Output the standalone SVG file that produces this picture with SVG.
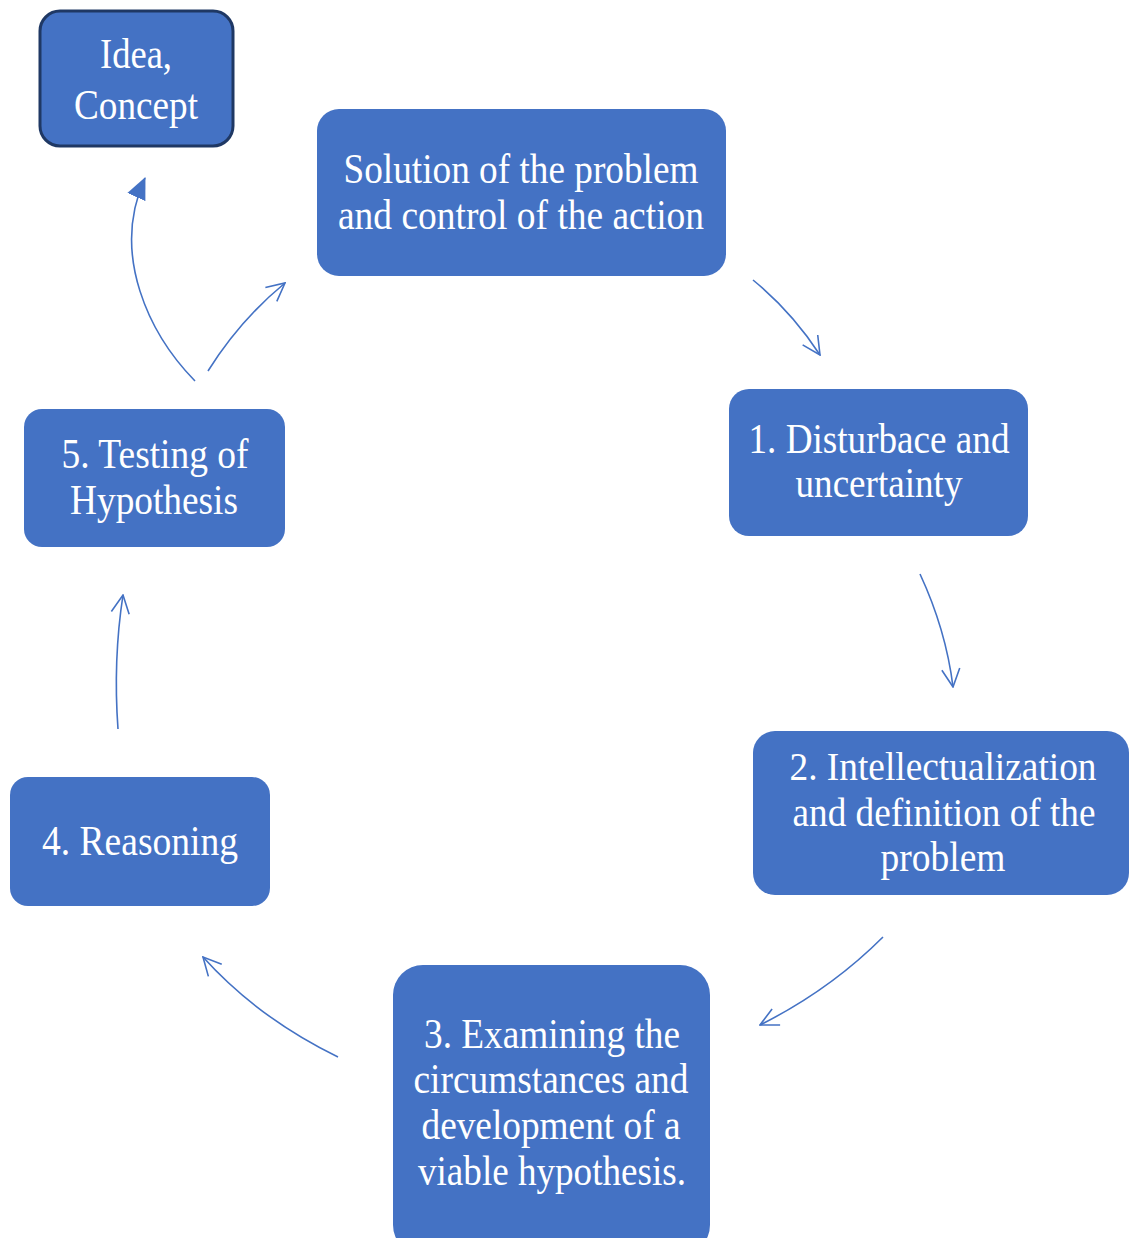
<svg xmlns="http://www.w3.org/2000/svg" width="1130" height="1238" viewBox="0 0 1130 1238">
<style>
.box{fill:#4472c4;}
.idea{fill:#4472c4;stroke:#1f3864;stroke-width:3;}
.t{font-family:"Liberation Serif","Times New Roman",serif;font-size:42px;fill:#ffffff;text-anchor:middle;}
.s{font-size:40px;}
.c{fill:none;stroke:#4472c4;stroke-width:1.6;}
</style>
<defs>
<marker id="open" viewBox="0 0 20 20" refX="19" refY="10" markerWidth="20" markerHeight="20" markerUnits="userSpaceOnUse" orient="auto">
<path d="M1,1 L19,10 L1,19" fill="none" stroke="#4472c4" stroke-width="1.6"/>
</marker>
<marker id="solid" viewBox="0 0 20 20" refX="19" refY="10" markerWidth="22" markerHeight="22" markerUnits="userSpaceOnUse" orient="auto">
<path d="M0,1 L20,10 L0,19 Z" fill="#4472c4"/>
</marker>
</defs>
<rect width="1130" height="1238" fill="#ffffff"/>
<g id="connectors">
<path class="c" d="M753,280 Q792,312 820,355" marker-end="url(#open)"/>
<path class="c" d="M920,574 Q946,630 953,687" marker-end="url(#open)"/>
<path class="c" d="M883,937 Q830,990 760,1025" marker-end="url(#open)"/>
<path class="c" d="M338,1057 Q258,1018 203,957" marker-end="url(#open)"/>
<path class="c" d="M118,729 Q113,660 123,595" marker-end="url(#open)"/>
<path class="c" d="M208,371 Q240,320 285,283" marker-end="url(#open)"/>
<path class="c" d="M195,381 C150,335 110,255 145,178" marker-end="url(#solid)"/>
</g>
<g id="idea">
<rect class="idea" x="40" y="11" width="193" height="135" rx="20"/>
<text class="t" x="136" y="68" textLength="72" lengthAdjust="spacingAndGlyphs">Idea,</text>
<text class="t" x="136" y="119" textLength="124" lengthAdjust="spacingAndGlyphs">Concept</text>
</g>
<g id="solution">
<rect class="box" x="317" y="109" width="409" height="167" rx="22"/>
<text class="t" x="521" y="183" textLength="355" lengthAdjust="spacingAndGlyphs">Solution of the problem</text>
<text class="t" x="521" y="229" textLength="366" lengthAdjust="spacingAndGlyphs">and control of the action</text>
</g>
<g id="step1">
<rect class="box" x="729" y="389" width="299" height="147" rx="20"/>
<text class="t" x="879" y="453" textLength="261" lengthAdjust="spacingAndGlyphs">1. Disturbace and</text>
<text class="t" x="879" y="497" textLength="167" lengthAdjust="spacingAndGlyphs">uncertainty</text>
</g>
<g id="step2">
<rect class="box" x="753" y="731" width="376" height="164" rx="22"/>
<text class="t s" x="943" y="780" textLength="307" lengthAdjust="spacingAndGlyphs">2. Intellectualization</text>
<text class="t s" x="944" y="826" textLength="303" lengthAdjust="spacingAndGlyphs">and definition of the</text>
<text class="t" x="943" y="871" textLength="125" lengthAdjust="spacingAndGlyphs">problem</text>
</g>
<g id="step3">
<rect class="box" x="393" y="965" width="317" height="290" rx="30"/>
<text class="t" x="552" y="1048" textLength="256" lengthAdjust="spacingAndGlyphs">3. Examining the</text>
<text class="t" x="551" y="1093" textLength="275" lengthAdjust="spacingAndGlyphs">circumstances and</text>
<text class="t" x="551" y="1139" textLength="259" lengthAdjust="spacingAndGlyphs">development of a</text>
<text class="t" x="552" y="1185" textLength="268" lengthAdjust="spacingAndGlyphs">viable hypothesis.</text>
</g>
<g id="step4">
<rect class="box" x="10" y="777" width="260" height="129" rx="18"/>
<text class="t" x="140" y="855" textLength="196" lengthAdjust="spacingAndGlyphs">4. Reasoning</text>
</g>
<g id="step5">
<rect class="box" x="24" y="409" width="261" height="138" rx="18"/>
<text class="t" x="155" y="468" textLength="187" lengthAdjust="spacingAndGlyphs">5. Testing of</text>
<text class="t" x="154" y="514" textLength="168" lengthAdjust="spacingAndGlyphs">Hypothesis</text>
</g>
</svg>
